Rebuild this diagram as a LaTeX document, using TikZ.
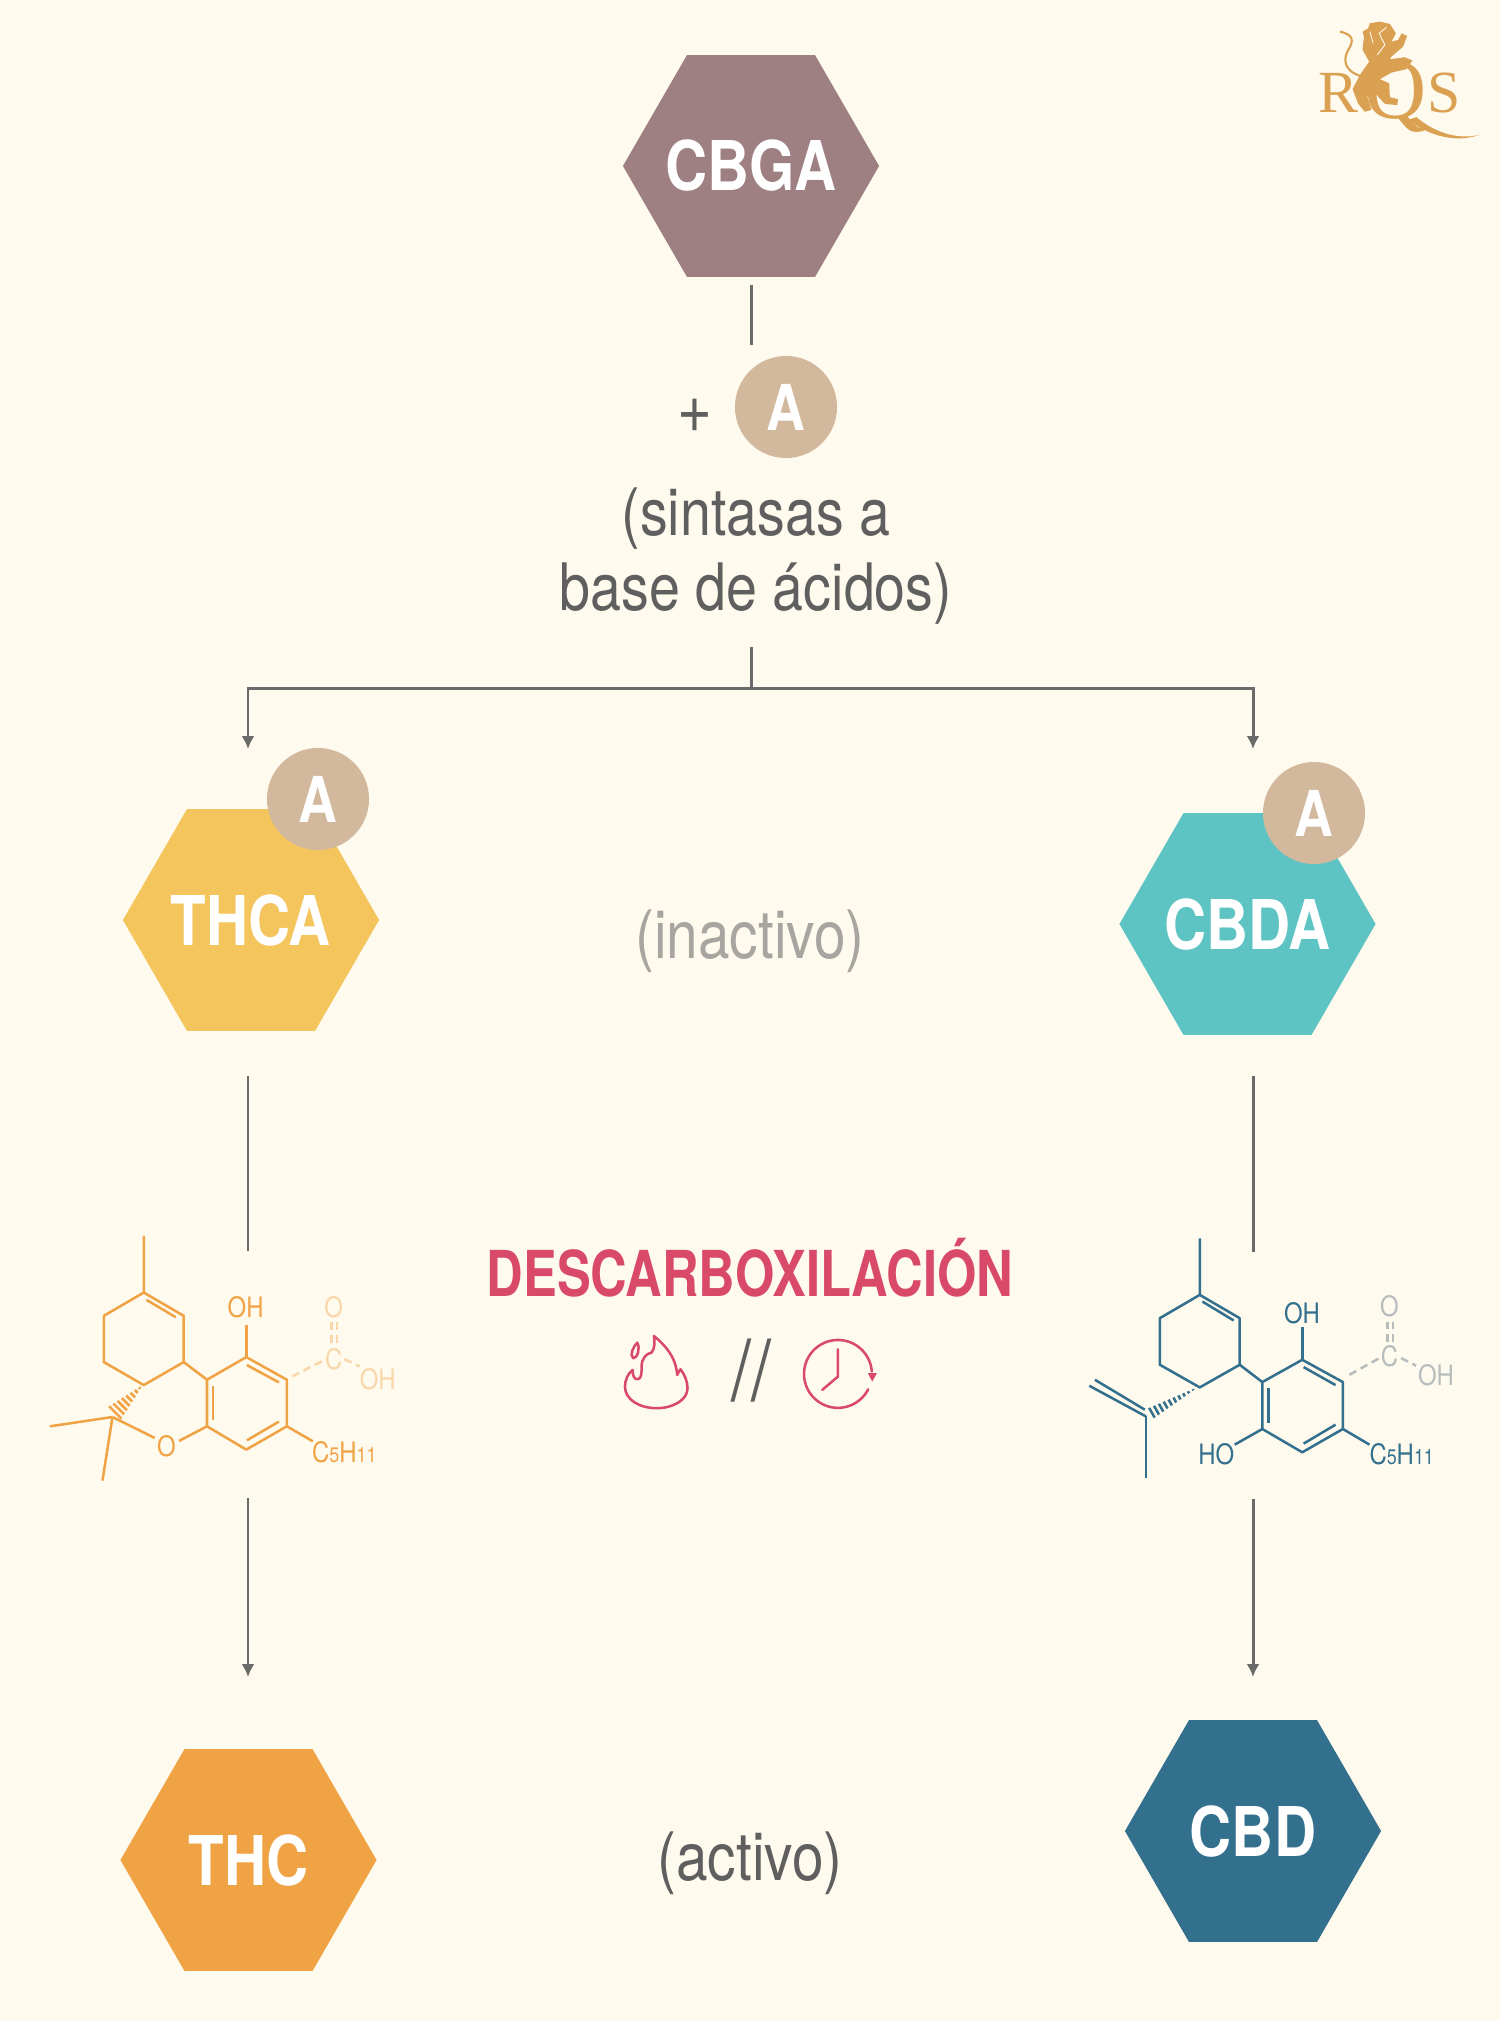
\documentclass[tikz,border=0pt]{standalone}
\usepackage{fontspec}
\usetikzlibrary{shapes.geometric,arrows.meta}
\newfontfamily\condfont[FakeStretch=0.85]{TeX Gyre Heros}
\newfontfamily\headfont[FakeStretch=0.80]{TeX Gyre Heros}
\newfontfamily\logofont{Liberation Serif}
\definecolor{pagebg}{HTML}{FFFAEE}
\definecolor{cbgacol}{HTML}{9E8082}
\definecolor{acol}{HTML}{D2B89C}
\definecolor{thcacol}{HTML}{F4C55C}
\definecolor{cbdacol}{HTML}{5EC3C3}
\definecolor{thccol}{HTML}{F0A344}
\definecolor{cbdcol}{HTML}{33708E}
\definecolor{linecol}{HTML}{6A6A6A}
\definecolor{textcol}{HTML}{5F5F5F}
\definecolor{idlecol}{HTML}{A8A5A0}
\definecolor{redcol}{HTML}{D84A68}
\definecolor{goldcol}{HTML}{DBA153}
\newcommand{\subfig}[1]{{\fontsize{6}{6}\selectfont #1}}
\begin{document}
\begin{tikzpicture}[x=0.01cm, y=-0.01cm,
    every node/.style={font=\condfont, inner sep=0pt, outer sep=0pt},
    hexbox/.style={regular polygon, regular polygon sides=6, minimum size=2.56cm, text=white, font=\condfont\bfseries\fontsize{19.5}{22}\selectfont},
    acid/.style={circle, minimum size=1.02cm, fill=acol, text=white, font=\condfont\bfseries\fontsize{18}{18}\selectfont},
    label/.style={text=textcol, align=center, font=\condfont\fontsize{19}{21.3}\selectfont},
    link/.style={draw=linecol, line width=0.85pt},
    linkarrow/.style={link, -{Latex[length=1.3mm,width=1.3mm]}},
    thcbond/.style={draw=thccol, line width=0.72pt},
    cbdbond/.style={draw=cbdcol, line width=0.72pt},
    thcatom/.style={text=thccol, font=\condfont\fontsize{8}{9}\selectfont},
    cbdatom/.style={text=cbdcol, font=\condfont\fontsize{8}{9}\selectfont},
    fadebond/.style={line width=0.72pt, dashed, dash pattern=on 2.2pt off 1.4pt},
    iconline/.style={draw=redcol, line width=0.72pt, line join=round, line cap=round}]
    \fill[pagebg] (0,0) rectangle (1500,2021);
    \useasboundingbox (0,0) rectangle (1500,2021);

    \node[hexbox, fill=cbgacol] (cbga) at (751,166) {\makebox[0pt]{CBGA}};
    \node[hexbox, fill=thcacol] (thca) at (251,920) {\makebox[0pt]{THCA}};
    \node[hexbox, fill=cbdacol] (cbda) at (1247.5,924) {\makebox[0pt]{CBDA}};
    \node[hexbox, fill=thccol] (thc) at (248.5,1860) {\makebox[0pt]{THC}};
    \node[hexbox, fill=cbdcol] (cbd) at (1253,1831) {\makebox[0pt]{CBD}};

    \node[acid] (acidtop) at (786,407) {A};
    \node[acid] (acidthca) at (318,799) {A};
    \node[acid] (acidcbda) at (1314,813) {A};

    \node[label, font=\condfont\fontsize{20}{22}\selectfont] (plus) at (695,416) {+};
    \node[label, font=\condfont\fontsize{18.6}{21.3}\selectfont] (synth) at (756,556) {(sintasas a\\base de ácidos)};
    \node[label, text=idlecol] (idle) at (750,941) {(inactivo)};
    \node[label] (active) at (750,1863) {(activo)};
    \node[text=redcol, font=\headfont\bfseries\fontsize{18}{22}\selectfont] (decarb) at (750,1268) {DESCARBOXILACIÓN};
    \node[text=textcol, font=\condfont\fontsize{24}{26}\selectfont] (either) at (751,1371) {//};

    \coordinate (stemtop) at (751,285);
    \coordinate (stemend) at (751,345);
    \coordinate (forktop) at (751,647);
    \coordinate (forkmid) at (751,688);
    \coordinate (forkleft) at (248,749);
    \coordinate (forkright) at (1253,749);
    \coordinate (thcatop) at (248,1076);
    \coordinate (thcaend) at (248,1251);
    \coordinate (cbdatop) at (1253,1076);
    \coordinate (cbdaend) at (1253,1252);
    \coordinate (thctop) at (248,1498);
    \coordinate (thcend) at (248,1677);
    \coordinate (cbdtop) at (1253,1499);
    \coordinate (cbdend) at (1253,1677);

    \draw[link] (stemtop) -- (stemend);
    \draw[link] (forktop) -- (forkmid);
    \draw[linkarrow] (forkmid) -| (forkleft);
    \draw[linkarrow] (forkmid) -| (forkright);
    \draw[link] (thcatop) -- (thcaend);
    \draw[link] (cbdatop) -- (cbdaend);
    \draw[linkarrow] (thctop) -- (thcend);
    \draw[linkarrow] (cbdtop) -- (cbdend);

    \begin{scope}[shift={(0,1200)}, x=0.003333cm, y=-0.003333cm]
        \draw[thcbond, line join=round] (432,108) -- (432,278) -- (552,348) -- (552,487) -- (432,556) -- (312,487) -- (312,348) -- (432,278);
        \draw[thcbond] (440,300) -- (528,352);
        \draw[thcbond] (552,487) -- (622,540);
        \draw[thcbond, line join=round] (622,540) -- (740,472) -- (862,540) -- (862,680) -- (740,750) -- (622,680) -- cycle;
        \draw[thcbond] (742,496) -- (838,548);
        \draw[thcbond] (838,666) -- (742,722);
        \draw[thcbond] (640,660) -- (640,560);
        \draw[thcbond] (740,472) -- (740,375);
        \draw[thcbond] (862,680) -- (940,725);
        \draw[thcbond] (622,680) -- (538,724);
        \draw[thcbond] (465,715) -- (338,652);
        \draw[thcbond] (338,652) -- (150,680);
        \draw[thcbond] (338,652) -- (308,843);
        \foreach \t in {0,0.14,...,1.01}
            \draw[thcbond] ({420-75*\t-(2+17*\t)},{565+75*\t-(2+17*\t)}) -- ({420-75*\t+(2+17*\t)},{565+75*\t+(2+17*\t)});
        \node[thcatom] (thcoh) at (738,322) {OH};
        \node[thcatom] (thcox) at (500,740) {O};
        \node[thcatom, anchor=west] (thcchain) at (938,757) {C\subfig{5}H\subfig{11}};
        \begin{scope}[thccol!40!pagebg]
            \node[thcatom, text=thccol!40!pagebg] (thcacidc) at (1003,478) {C};
            \node[thcatom, text=thccol!40!pagebg] (thcacido) at (1003,323) {O};
            \node[thcatom, text=thccol!40!pagebg] (thcacidoh) at (1135,538) {OH};
            \draw[fadebond] (878,530) -- (980,478);
            \draw[fadebond] (1035,478) -- (1080,500);
            \draw[fadebond] (996,368) -- (996,435);
            \draw[fadebond] (1012,368) -- (1012,435);
        \end{scope}
    \end{scope}

    \begin{scope}[shift={(1050,1210)}, x=0.003333cm, y=-0.003333cm]
        \draw[cbdbond, line join=round] (450,85) -- (450,255) -- (570,325) -- (570,465) -- (450,533) -- (330,465) -- (330,325) -- (450,255);
        \draw[cbdbond] (458,275) -- (552,332);
        \draw[cbdbond] (570,465) -- (638,517);
        \draw[cbdbond, line join=round] (638,517) -- (758,450) -- (880,517) -- (880,658) -- (758,728) -- (638,658) -- cycle;
        \draw[cbdbond] (762,472) -- (858,526);
        \draw[cbdbond] (858,645) -- (762,702);
        \draw[cbdbond] (656,640) -- (656,535);
        \draw[cbdbond] (758,450) -- (758,352);
        \draw[cbdbond] (638,658) -- (555,705);
        \draw[cbdbond] (880,658) -- (960,705);
        \draw[cbdbond] (288,620) -- (288,805);
        \draw[cbdbond] (288,620) -- (118,528);
        \draw[cbdbond] (285,600) -- (135,510);
        \foreach \t in {0,0.11,...,1.01}
            \draw[cbdbond] ({430-125*\t-0.49*(2+15*\t)},{540+70*\t-0.87*(2+15*\t)}) -- ({430-125*\t+0.49*(2+15*\t)},{540+70*\t+0.87*(2+15*\t)});
        \node[cbdatom] (cbdohtop) at (757,310) {OH};
        \node[cbdatom] (cbdohlow) at (500,735) {HO};
        \node[cbdatom, anchor=west] (cbdchain) at (960,733) {C\subfig{5}H\subfig{11}};
        \begin{scope}[cbdcol!30!idlecol!60!pagebg]
            \node[cbdatom, text=cbdcol!30!idlecol!60!pagebg] (cbdacidc) at (1020,440) {C};
            \node[cbdatom, text=cbdcol!30!idlecol!60!pagebg] (cbdacido) at (1020,290) {O};
            \node[cbdatom, text=cbdcol!30!idlecol!60!pagebg] (cbdacidoh) at (1160,495) {OH};
            \draw[fadebond] (900,495) -- (990,445);
            \draw[fadebond] (1055,445) -- (1100,468);
            \draw[fadebond] (1014,335) -- (1014,400);
            \draw[fadebond] (1030,335) -- (1030,400);
        \end{scope}
    \end{scope}

    \begin{scope}[shift={(590,1310)}, x=0.003333cm, y=-0.003333cm]
        \draw[iconline] (192,78) .. controls (225,105) and (258,140) .. (262,195) .. controls (265,190) and (268,182) .. (272,178) .. controls (285,195) and (293,215) .. (293,235) .. controls (293,270) and (250,295) .. (200,295) .. controls (150,295) and (105,270) .. (105,230) .. controls (105,210) and (115,190) .. (128,180) .. controls (128,195) and (132,208) .. (142,208) .. controls (155,208) and (155,190) .. (155,170) .. controls (155,145) and (170,130) .. (185,128) .. controls (195,115) and (195,95) .. (192,78) -- cycle;
        \draw[iconline] (142,98) .. controls (152,115) and (142,145) .. (130,145) .. controls (118,135) and (130,110) .. (142,98) -- cycle;
        \draw[iconline, domain=27:356, samples=60, smooth, variable=\a] plot ({745+102*cos(\a)}, {192+102*sin(\a)});
        \fill[redcol] (835,190) -- (862,190) -- (848,215) -- cycle;
        \draw[iconline] (745,118) -- (745,200) -- (698,240);
    \end{scope}

    \begin{scope}[shift={(1290,0)}, x=0.003333cm, y=-0.003333cm]
        \node[text=goldcol, font=\logofont\fontsize{17}{20}\selectfont] (logor) at (145,280) {R};
        \node[text=goldcol, font=\logofont\fontsize{24.5}{26}\selectfont] (logoq) at (318,290) {Q};
        \node[text=goldcol, font=\logofont\fontsize{17}{20}\selectfont] (logos) at (462,280) {S};
        \fill[goldcol] (355,360) .. controls (420,410) and (500,430) .. (570,405) .. controls (500,422) and (430,395) .. (380,352) -- cycle;
        \draw[goldcol, line width=0.6pt] (210,228) .. controls (170,215) and (155,185) .. (175,150) .. controls (190,125) and (195,105) .. (150,95);
        \fill[goldcol] (270,65) -- (300,72) -- (318,100) -- (305,125) -- (325,120) -- (335,100) -- (352,108) -- (340,140) -- (305,170) -- (300,178) -- (345,172) -- (368,182) -- (350,208) -- (305,218) -- (270,238) -- (298,250) -- (300,292) -- (325,298) -- (322,316) -- (285,312) -- (260,285) -- (232,290) -- (245,330) -- (225,336) -- (205,312) -- (188,268) -- (210,225) -- (238,185) -- (218,150) -- (222,110) -- (218,95) -- (235,85) -- (240,70) -- cycle;
        \draw[pagebg, line width=0.25pt] (290,82) -- (268,100) -- (285,135) -- (262,165);
        \draw[pagebg, line width=0.25pt] (240,95) -- (250,130);
    \end{scope}
\end{tikzpicture}
\end{document}
